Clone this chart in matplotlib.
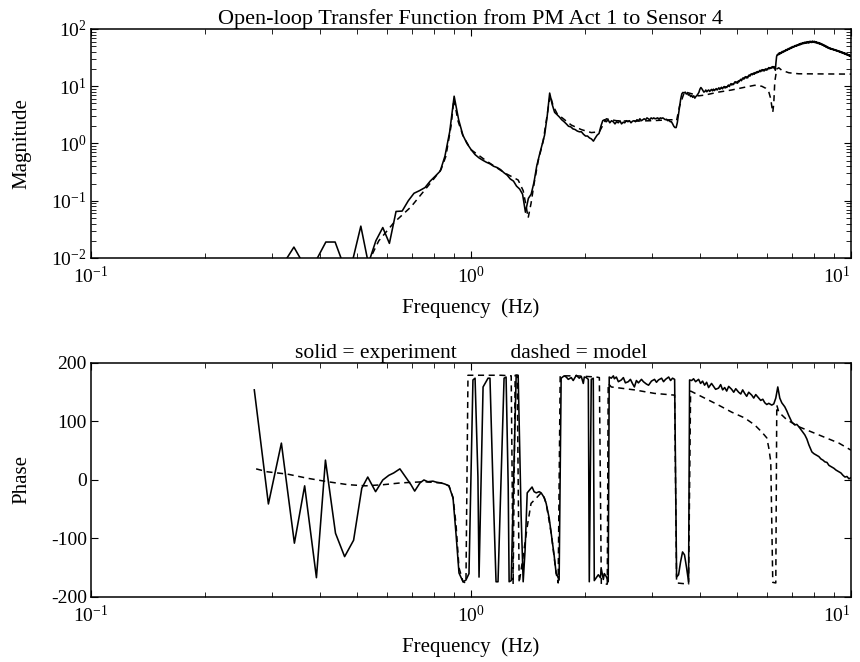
import matplotlib
matplotlib.use('Agg')
import matplotlib.pyplot as plt
from matplotlib.ticker import LogLocator, NullFormatter, FixedLocator

# Fonte serifada parecida com Times
plt.rcParams['font.family'] = ['Liberation Serif', 'DejaVu Serif']
plt.rcParams['mathtext.fontset'] = 'custom'
plt.rcParams['mathtext.rm'] = 'Liberation Serif'
plt.rcParams['axes.unicode_minus'] = False

mag_exp_f = [
    0.269, 0.293, 0.317, 0.342, 0.366, 0.391, 0.415, 0.439, 0.464, 0.488,
    0.513, 0.537, 0.562, 0.586, 0.610, 0.635, 0.659, 0.684, 0.708, 0.732,
    0.757, 0.781, 0.806, 0.830, 0.854, 0.879, 0.903, 0.928, 0.952, 0.976,
    1.001, 1.025, 1.050, 1.074, 1.098, 1.123, 1.147, 1.172, 1.196, 1.220,
    1.245, 1.269, 1.294, 1.318, 1.343, 1.367, 1.391, 1.416, 1.440, 1.465,
    1.489, 1.513, 1.538, 1.562, 1.587, 1.611, 1.636, 1.660, 1.684, 1.709,
    1.733, 1.758, 1.782, 1.806, 1.831, 1.855, 1.880, 1.904, 1.929, 1.953,
    1.977, 2.002, 2.026, 2.051, 2.075, 2.100, 2.124, 2.148, 2.173, 2.197,
    2.222, 2.246, 2.271, 2.295, 2.319, 2.344, 2.368, 2.393, 2.417, 2.441,
    2.466, 2.490, 2.515, 2.539, 2.563, 2.588, 2.612, 2.637, 2.661, 2.686,
    2.710, 2.734, 2.759, 2.783, 2.808, 2.832, 2.856, 2.881, 2.905, 2.930,
    2.954, 2.979, 3.003, 3.027, 3.052, 3.076, 3.101, 3.125, 3.149, 3.174,
    3.198, 3.223, 3.247, 3.271, 3.296, 3.320, 3.345, 3.369, 3.394, 3.418,
    3.442, 3.467, 3.491, 3.516, 3.540, 3.564, 3.589, 3.613, 3.638, 3.662,
    3.687, 3.711, 3.735, 3.760, 3.784, 3.809, 3.833, 3.857, 3.882, 3.906,
    3.931, 3.955, 3.979, 4.004, 4.028, 4.053, 4.077, 4.101, 4.126, 4.150,
    4.175, 4.199, 4.223, 4.248, 4.272, 4.297, 4.321, 4.346, 4.370, 4.394,
    4.419, 4.443, 4.468, 4.492, 4.516, 4.541, 4.565, 4.590, 4.614, 4.639,
    4.663, 4.687, 4.712, 4.736, 4.761, 4.785, 4.810, 4.834, 4.858, 4.883,
    4.907, 4.932, 4.956, 4.980, 5.005, 5.029, 5.054, 5.078, 5.102, 5.127,
    5.151, 5.176, 5.200, 5.225, 5.249, 5.273, 5.298, 5.322, 5.347, 5.371,
    5.395, 5.420, 5.444, 5.469, 5.493, 5.518, 5.542, 5.566, 5.591, 5.615,
    5.640, 5.664, 5.688, 5.713, 5.737, 5.762, 5.786, 5.810, 5.835, 5.859,
    5.884, 5.908, 5.932, 5.957, 5.981, 6.006, 6.030, 6.055, 6.079, 6.103,
    6.128, 6.152, 6.177, 6.201, 6.226, 6.250, 6.274, 6.299, 6.323, 6.348,
    6.372, 6.396, 6.421, 6.445, 6.470, 6.494, 6.519, 6.543, 6.567, 6.592,
    6.616, 6.641, 6.665, 6.689, 6.714, 6.738, 6.763, 6.787, 6.812, 6.836,
    6.860, 6.885, 6.909, 6.934, 6.958, 6.982, 7.007, 7.031, 7.056, 7.080,
    7.104, 7.129, 7.153, 7.178, 7.202, 7.227, 7.251, 7.275, 7.300, 7.324,
    7.349, 7.373, 7.397, 7.422, 7.446, 7.471, 7.495, 7.520, 7.544, 7.568,
    7.593, 7.617, 7.642, 7.666, 7.690, 7.715, 7.739, 7.764, 7.788, 7.813,
    7.837, 7.861, 7.886, 7.910, 7.935, 7.959, 7.983, 8.008, 8.032, 8.057,
    8.081, 8.105, 8.130, 8.154, 8.179, 8.203, 8.228, 8.252, 8.276, 8.301,
    8.325, 8.350, 8.374, 8.398, 8.423, 8.447, 8.472, 8.496, 8.521, 8.545,
    8.569, 8.594, 8.618, 8.643, 8.667, 8.691, 8.716, 8.740, 8.765, 8.789,
    8.813, 8.838, 8.862, 8.887, 8.911, 8.936, 8.960, 8.984, 9.009, 9.033,
    9.058, 9.082, 9.106, 9.131, 9.155, 9.180, 9.204, 9.229, 9.253, 9.277,
    9.302, 9.326, 9.351, 9.375, 9.399, 9.424, 9.448, 9.473, 9.497, 9.521,
    9.546, 9.570, 9.595, 9.619, 9.644, 9.668, 9.692, 9.717, 9.741, 9.766,
    9.790, 9.814, 9.839, 9.863, 9.888, 9.912, 9.937, 9.961, 9.985, 10.01,
]
mag_exp = [
    0.006, 0.006, 0.007, 0.0155, 0.007, 0.009, 0.019, 0.019, 0.007, 0.009,
    0.036, 0.008, 0.020, 0.034, 0.018, 0.065, 0.066, 0.100, 0.135, 0.150,
    0.170, 0.220, 0.270, 0.330, 0.600, 1.60, 6.70, 2.60, 1.40, 1.00,
    0.78, 0.64, 0.56, 0.51, 0.47, 0.44, 0.40, 0.38, 0.35, 0.31,
    0.28, 0.24, 0.22, 0.18, 0.16, 0.13, 0.063, 0.11, 0.13, 0.21,
    0.40, 0.62, 0.95, 1.4, 3.0, 7.6, 4.8, 3.5, 3.2, 2.9,
    2.6, 2.4, 2.2, 2.0, 1.95, 1.8, 1.75, 1.65, 1.6, 1.6,
    1.45, 1.35, 1.35, 1.25, 1.2, 1.1, 1.25, 1.4, 1.5, 2.0,
    2.5, 2.6, 2.4, 2.6, 2.3, 2.5, 2.4, 2.2, 2.4, 2.3,
    2.5, 2.2, 2.35, 2.3, 2.5, 2.4, 2.5, 2.3, 2.45, 2.5,
    2.4, 2.6, 2.5, 2.7, 2.5, 2.6, 2.7, 2.6, 2.8, 2.7,
    2.6, 2.8, 2.7, 2.8, 2.7, 2.75, 2.8, 2.65, 2.8, 2.75,
    2.8, 2.7, 2.6, 2.65, 2.5, 2.55, 2.4, 2.4, 2.2, 2.0,
    1.9, 1.9, 2.3, 3.2, 4.5, 6.0, 7.4, 7.8, 7.6, 7.9,
    7.3, 7.6, 7.0, 7.2, 6.6, 6.9, 6.4, 6.8, 6.2, 6.6,
    6.9, 7.3, 7.8, 8.9, 9.5, 9.0, 8.4, 7.9, 8.1, 8.6,
    8.0, 8.4, 8.6, 8.1, 8.5, 8.8, 8.3, 8.9, 8.4, 8.7,
    9.1, 8.6, 9.0, 9.4, 8.8, 9.3, 9.6, 9.0, 9.5, 9.9,
    9.3, 9.8, 9.5, 10.1, 10.5, 9.9, 10.6, 11.1, 10.5, 11.0,
    10.7, 11.5, 12.0, 11.4, 11.9, 11.3, 12.4, 12.0, 12.7, 13.2,
    12.5, 13.5, 14.0, 13.3, 14.1, 14.7, 13.9, 14.6, 14.0, 15.2,
    15.7, 15.0, 16.0, 16.5, 15.8, 16.4, 17.0, 16.2, 17.3, 16.8,
    17.8, 17.2, 18.1, 17.5, 18.4, 19.0, 18.0, 18.8, 19.5, 18.6,
    19.4, 18.5, 19.4, 20.1, 19.1, 20.0, 19.4, 20.5, 21.2, 20.2,
    21.0, 20.5, 21.6, 21.0, 22.0, 21.0, 22.0, 20.5, 19.0, 26.0,
    33.0, 35.5, 35.0, 37.5, 36.0, 38.5, 37.0, 39.0, 38.0, 40.5,
    39.0, 41.0, 40.0, 42.0, 41.0, 43.5, 42.0, 44.0, 43.0, 45.5,
    44.0, 46.0, 45.0, 47.5, 46.0, 48.5, 47.0, 49.5, 48.0, 50.0,
    49.0, 51.5, 50.0, 52.0, 50.5, 53.0, 51.5, 54.0, 52.5, 55.0,
    53.0, 56.0, 54.0, 56.5, 55.0, 57.5, 55.5, 58.0, 56.0, 59.0,
    56.5, 58.5, 57.0, 60.0, 57.5, 59.0, 57.0, 60.5, 58.0, 61.0,
    58.5, 60.0, 58.0, 61.5, 59.0, 60.5, 58.5, 61.0, 58.0, 60.0,
    57.5, 59.5, 57.0, 58.5, 56.0, 58.0, 55.5, 57.0, 54.5, 56.5,
    54.0, 55.5, 53.0, 54.5, 52.0, 53.5, 51.0, 52.5, 50.0, 51.5,
    49.0, 50.5, 48.0, 49.5, 47.0, 48.5, 46.5, 47.5, 45.5, 47.0,
    45.0, 46.0, 44.5, 45.5, 44.0, 45.0, 43.5, 44.5, 43.0, 44.0,
    42.5, 43.5, 42.0, 43.0, 41.5, 42.5, 41.0, 42.0, 40.5, 41.5,
    40.0, 41.0, 39.5, 40.5, 39.0, 40.0, 38.5, 39.5, 38.0, 39.0,
    37.5, 38.5, 37.0, 38.0, 36.5, 37.5, 36.0, 37.0, 35.5, 36.5,
    35.0, 36.0, 34.5, 35.5, 34.0, 35.0, 33.5, 34.5, 33.5, 34.0,
]

# Magnitude do modelo (tracejado)
mag_mod_f = [
    0.535, 0.572, 0.626, 0.695, 0.794, 0.834, 0.859, 0.886, 0.902, 0.924,
    0.953, 1.000, 1.096, 1.222, 1.331, 1.372, 1.397, 1.414, 1.439, 1.466,
    1.503, 1.549, 1.577, 1.616, 1.646, 1.686, 1.727, 1.836, 1.951, 2.073,
    2.177, 2.270, 2.413, 2.644, 2.985, 3.373, 3.476, 3.539, 3.647, 3.807,
    3.972, 4.119, 4.482, 4.852, 5.252, 5.582, 5.825, 5.968, 6.077, 6.151,
    6.188, 6.226, 6.264, 6.302, 6.379, 6.457, 6.575, 6.861, 7.292, 10.0,
]
mag_mod = [
    0.008, 0.020, 0.041, 0.078, 0.23, 0.35, 0.6, 2.0, 6.0, 2.5,
    1.35, 0.78, 0.5, 0.31, 0.23, 0.15, 0.08, 0.05, 0.09, 0.2,
    0.5, 1.1, 2.4, 7.0, 4.5, 3.3, 2.9, 2.1, 1.75, 1.55,
    1.6, 2.7, 2.5, 2.45, 2.5, 2.6, 2.5, 4.5, 8.0, 7.4,
    6.8, 7.0, 7.9, 8.6, 9.6, 10.4, 10.0, 9.2, 8.0, 6.0,
    4.5, 3.5, 5.0, 12.0, 20.0, 21.0, 19.0, 17.2, 16.5, 16.3,
]

# Fase medida (graus)
ph_exp_f = [
    0.269, 0.293, 0.317, 0.343, 0.365, 0.392, 0.414, 0.440, 0.465, 0.491,
    0.516, 0.535, 0.561, 0.586, 0.608, 0.626, 0.650, 0.673, 0.695, 0.711,
    0.734, 0.752, 0.770, 0.794, 0.813, 0.834, 0.854, 0.875, 0.897, 0.913,
    0.930, 0.953, 0.970, 0.988, 1.012, 1.025, 1.043, 1.050, 1.076, 1.109,
    1.122, 1.143, 1.164, 1.178, 1.222, 1.237, 1.253, 1.260, 1.276, 1.315,
    1.331, 1.355, 1.372, 1.388, 1.406, 1.423, 1.448, 1.466, 1.485, 1.512,
    1.530, 1.558, 1.577, 1.606, 1.626, 1.656, 1.675, 1.706, 1.727, 1.759,
    1.781, 1.803, 1.836, 1.858, 1.893, 1.927, 1.951, 1.975, 1.987, 2.011,
    2.036, 2.048, 2.073, 2.098, 2.111, 2.148, 2.163, 2.190, 2.203, 2.230,
    2.243, 2.270, 2.297, 2.311, 2.340, 2.370, 2.384, 2.413, 2.443, 2.487,
    2.518, 2.549, 2.594, 2.628, 2.660, 2.692, 2.725, 2.758, 2.810, 2.843,
    2.895, 2.933, 2.985, 3.041, 3.077, 3.115, 3.174, 3.212, 3.251, 3.313,
    3.352, 3.392, 3.435, 3.476, 3.518, 3.561, 3.604, 3.647, 3.693, 3.738,
    3.761, 3.807, 3.853, 3.900, 3.972, 4.020, 4.069, 4.119, 4.170, 4.220,
    4.296, 4.350, 4.403, 4.482, 4.540, 4.595, 4.652, 4.709, 4.766, 4.852,
    4.914, 4.975, 5.063, 5.128, 5.188, 5.252, 5.316, 5.381, 5.481, 5.548,
    5.616, 5.719, 5.787, 5.861, 5.932, 6.004, 6.077, 6.188, 6.264, 6.341,
    6.418, 6.496, 6.575, 6.697, 6.779, 6.861, 6.988, 7.116, 7.203, 7.292,
    7.426, 7.562, 7.655, 7.749, 7.891, 7.987, 8.134, 8.233, 8.334, 8.436,
    8.538, 8.647, 8.750, 8.912, 9.018, 9.130, 9.297, 9.410, 9.526, 9.643,
    9.759, 9.879, 10.0,
]
ph_exp = [
    154, -41, 63, -108, -10, -167, 34, -91, -131, -103,
    -14, 5, -20, 0, 8, 12, 19, 5, -8, -19,
    -5, 0, -3, -2, -4, -5, -7, -10, -31, -91,
    -159, -174, -171, -160, 171, 174, 5, -166, 159, 174,
    174, -12, -174, -174, 174, 176, -10, -174, -172, 179,
    179, -60, -174, -120, -22, -18, -12, -20, -22, -20,
    -22, -30, -40, -65, -91, -130, -159, -171, 174, 178,
    176, 172, 175, 170, 179, 174, 177, 165, 176, 175,
    172, -174, 172, 174, -172, -165, -162, -167, -152, -170,
    -160, -165, -174, 176, 174, 178, 173, 176, 168, 171,
    175, 166, 168, 172, 165, 159, 170, 166, 172, 168,
    164, 162, 169, 172, 167, 171, 174, 168, 172, 176,
    170, 174, 172, -166, -162, -140, -123, -128, -150, -174,
    171, 170, 173, 168, 172, 165, 169, 162, 167, 158,
    165, 160, 155, 157, 163, 154, 158, 152, 160, 155,
    150, 156, 150, 147, 154, 148, 143, 150, 145, 140,
    146, 140, 136, 138, 132, 129, 131, 128, 130, 140,
    159, 140, 132, 125, 118, 110, 99, 94, 95, 91,
    84, 77, 70, 60, 48, 45, 42, 40, 36, 34,
    31, 30, 25, 22, 20, 17, 14, 12, 8, 5,
    6, 2, 4,
]

# Fase do modelo
ph_mod_f = [
    0.272, 0.291, 0.329, 0.371, 0.420, 0.474, 0.528, 0.589, 0.653, 0.752,
    0.834, 0.875, 0.897, 0.913, 0.930, 0.953, 0.970, 0.982, 1.000, 1.063,
    1.129, 1.200, 1.276, 1.291, 1.307, 1.323, 1.339, 1.372, 1.406, 1.439,
    1.485, 1.530, 1.558, 1.577, 1.626, 1.675, 1.696, 1.717, 1.781, 1.893,
    2.011, 2.137, 2.177, 2.203, 2.284, 2.297, 2.340, 2.692, 3.041, 3.435,
    3.476, 3.738, 3.784, 4.119, 4.482, 4.852, 5.252, 5.582, 5.825, 6.004,
    6.077, 6.151, 6.226, 6.341, 6.379, 6.457, 6.779, 7.292, 8.233, 9.297, 10.0,
]
ph_mod = [
    19, 14, 10, 3, -3, -8, -10, -8, -5, -3,
    -5, -10, -30, -75, -150, -174, -176, 179, 179, 179,
    179, 179, 178, -178, 179, 179, -176, -130, -80, -40,
    -31, -22, -30, -40, -91, -159, -176, 178, 178, 178,
    177, 176, 175, -178, -178, 165, 159, 154, 148, 145,
    -176, -178, 152, 140, 128, 116, 106, 94, 82, 72,
    55, 31, -175, -176, 128, 116, 103, 91, 77, 63, 51,
]

x_ticks = [0.1, 1, 10]
x_tick_labels = [r'$\mathdefault{10^{-1}}$', r'$\mathdefault{10^{0}}$', r'$\mathdefault{10^{1}}$']

fig = plt.figure(figsize=(8.6, 6.62), dpi=100)
ax1 = fig.add_axes([0.1058, 0.6103, 0.8837, 0.3459])
ax2 = fig.add_axes([0.1058, 0.0982, 0.8837, 0.3535])

# Grafico de magnitude
ax1.loglog(mag_exp_f, mag_exp, color='black', lw=1.15)
ax1.loglog(mag_mod_f, mag_mod, color='black', lw=1.1, ls='--', dashes=(4, 3))
ax1.set_xlim(0.1, 10)
ax1.set_ylim(0.01, 100)
ax1.yaxis.set_minor_locator(LogLocator(base=10, subs=range(2, 10)))
ax1.yaxis.set_minor_formatter(NullFormatter())
ax1.set_ylabel('Magnitude', fontsize=15)
ax1.set_xlabel('Frequency  (Hz)', fontsize=15)
ax1.set_title('Open-loop Transfer Function from PM Act 1 to Sensor 4', fontsize=16, pad=2)

# Grafico de fase
ax2.semilogx(ph_exp_f, ph_exp, color='black', lw=1.15)
ax2.semilogx(ph_mod_f, ph_mod, color='black', lw=1.1, ls='--', dashes=(4, 3))
ax2.set_xlim(0.1, 10)
ax2.set_ylim(-200, 200)
ax2.yaxis.set_major_locator(FixedLocator([-200, -100, 0, 100, 200]))
ax2.set_ylabel('Phase', fontsize=15)
ax2.set_xlabel('Frequency  (Hz)', fontsize=15)
ax2.set_title('solid = experiment          dashed = model', fontsize=15.5, pad=3)

for ax in (ax1, ax2):
    ax.set_xticks(x_ticks)
    ax.set_xticklabels(x_tick_labels)
    ax.xaxis.set_minor_locator(LogLocator(base=10, subs=range(2, 10)))
    ax.xaxis.set_minor_formatter(NullFormatter())
    ax.tick_params(which='both', direction='in', top=True, right=True, labelsize=14)
    ax.tick_params(which='major', length=5, pad=3)
    ax.tick_params(axis='x', which='major', pad=6)
    ax.tick_params(which='minor', length=3.5)
    ax.yaxis.set_label_coords(-0.078, 0.5)
    labs = ax.get_xticklabels()
    labs[0].set_horizontalalignment('center')
    labs[2].set_horizontalalignment('right')
    for s in ax.spines.values():
        s.set_linewidth(1.1)

ax1.xaxis.set_label_coords(0.5, -0.175)
ax2.xaxis.set_label_coords(0.5, -0.17)

plt.savefig('out.png', dpi=100)
plt.close()
